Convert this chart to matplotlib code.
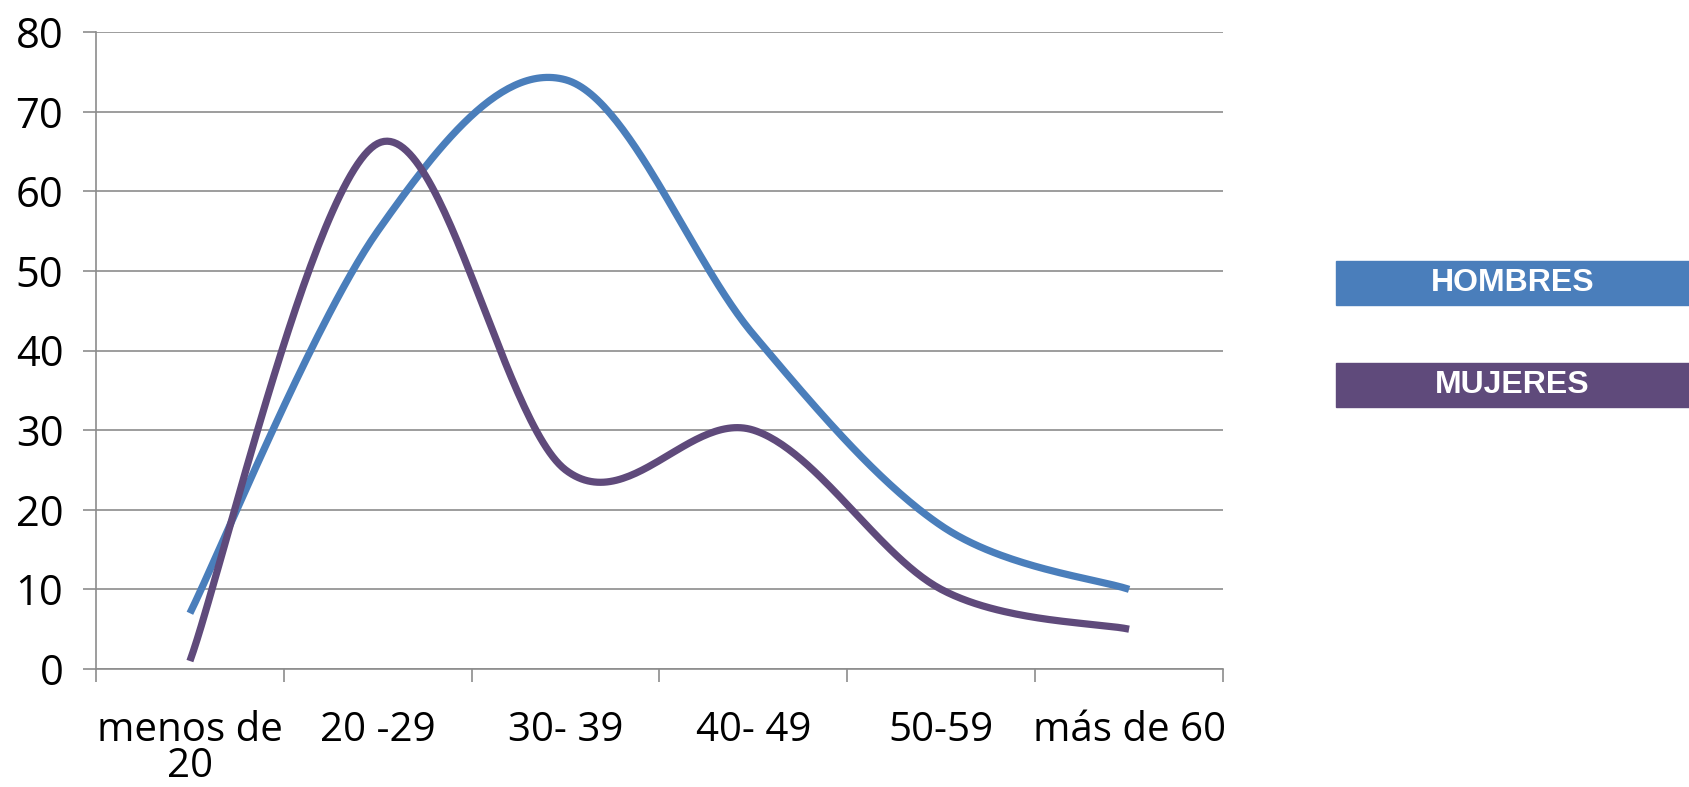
import numpy as np
import matplotlib
matplotlib.use("Agg")
import matplotlib.pyplot as plt
from matplotlib.patches import Rectangle

categories = ["menos de\n20", "20 -29", "30- 39", "40- 49", "50-59", "más de 60"]
hombres = [7, 55, 74, 42, 18, 10]
mujeres = [1, 66, 25, 30, 10, 5]
series_names = ["HOMBRES", "MUJERES"]
colors = ["#4A7EBB", "#5F4A7B"]

def smooth(x, y, n=60):
    x = np.asarray(x, float); y = np.asarray(y, float)
    P = np.column_stack([x, y])
    out = []
    m = len(P)
    for i in range(m - 1):
        p0 = P[i]; p3 = P[i + 1]
        prev = P[i - 1] if i > 0 else P[i]
        nxt = P[i + 2] if i + 2 < m else P[i + 1]
        c1 = p0 + (p3 - prev) / 6.0
        c2 = p3 - (nxt - p0) / 6.0
        t = np.linspace(0, 1, n)[:, None]
        seg = ((1 - t) ** 3) * p0 + 3 * ((1 - t) ** 2) * t * c1 + 3 * (1 - t) * t ** 2 * c2 + t ** 3 * p3
        out.append(seg if i == 0 else seg[1:])
    s = np.vstack(out)
    return s[:, 0], s[:, 1]

plt.rcParams['font.family'] = ['Open Sans', 'DejaVu Sans']

W, H = 1689, 787
fig = plt.figure(figsize=(W / 100, H / 100), dpi=100)
ax = fig.add_axes([96 / W, 1 - 669 / H, (1223 - 96) / W, (669 - 32) / H])

xs = np.arange(len(categories))
for vals, c in zip([hombres, mujeres], colors):
    sx, sy = smooth(xs, vals)
    ax.plot(sx, sy, color=c, lw=5.2, solid_capstyle='butt', zorder=3)

ax.set_xlim(-0.5, len(categories) - 0.5)
ax.set_ylim(0, 80)
ax.set_yticks(np.arange(0, 81, 10))
ax.yaxis.grid(True, color="#8C8C8C", lw=1.2)
ax.set_axisbelow(True)
for s in ["top", "right"]:
    ax.spines[s].set_visible(False)
for s in ["left", "bottom"]:
    ax.spines[s].set_color("#8C8C8C")
    ax.spines[s].set_linewidth(1.2)

ax.set_xticks(np.arange(-0.5, len(categories), 1.0))
ax.set_xticklabels([])
ax.set_xticks(xs, minor=True)
ax.set_xticklabels(categories, minor=True, fontsize=29, linespacing=0.85)
ax.tick_params(axis='x', which='major', length=9, width=1.2, color="#8C8C8C")
ax.tick_params(axis='x', which='minor', length=0, pad=30)
ax.tick_params(axis='y', length=9.5, width=1.2, color="#8C8C8C", labelsize=30, pad=14)

# legend boxes
for i, (name, c) in enumerate(zip(series_names, colors)):
    y0 = 1 - (305 + i * 102) / H
    fig.patches.append(Rectangle((1336 / W, y0), (W - 1336) / W, 44 / H,
                                 transform=fig.transFigure, color=c, zorder=1))
    fig.text((1336 + W) / 2 / W, y0 + 22 / H, name, color="white", fontsize=23,
             fontweight='bold', family=['Liberation Sans', 'DejaVu Sans'],
             ha='center', va='center')

fig.savefig("out.png", dpi=100)
